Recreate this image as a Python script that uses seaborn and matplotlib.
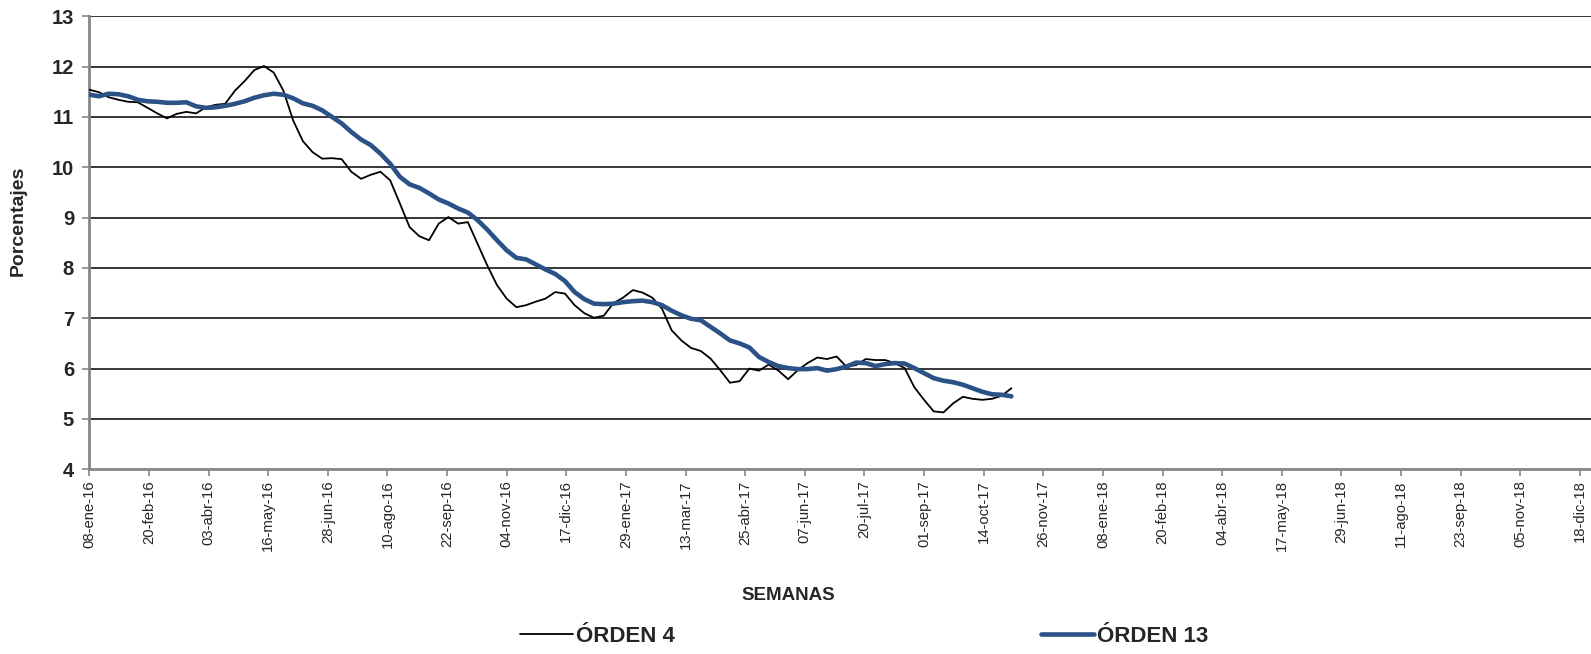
import numpy as np
import pandas as pd
import matplotlib
matplotlib.use("Agg")
import matplotlib.pyplot as plt
import seaborn as sns

# ---------------- data ----------------
start_date = "2016-01-08"
n_weeks = 96
orden4 = [11.54, 11.49, 11.39, 11.34, 11.30, 11.29, 11.18, 11.07, 10.97, 11.06,
          11.10, 11.07, 11.19, 11.24, 11.26, 11.52, 11.71, 11.93, 12.01, 11.88,
          11.52, 10.93, 10.52, 10.30, 10.17, 10.18, 10.16, 9.91, 9.77, 9.85,
          9.91, 9.74, 9.28, 8.81, 8.63, 8.55, 8.88, 9.01, 8.88, 8.91,
          8.48, 8.05, 7.66, 7.39, 7.22, 7.26, 7.33, 7.39, 7.52, 7.49,
          7.26, 7.10, 7.01, 7.05, 7.30, 7.41, 7.56, 7.51, 7.41, 7.19,
          6.76, 6.56, 6.41, 6.35, 6.20, 5.97, 5.72, 5.75, 6.00, 5.96,
          6.08, 5.96, 5.79, 5.97, 6.11, 6.22, 6.19, 6.24, 6.04, 6.07,
          6.19, 6.17, 6.17, 6.11, 6.01, 5.63, 5.38, 5.15, 5.13, 5.31,
          5.44, 5.40, 5.38, 5.40, 5.46, 5.61]
orden13 = [11.44, 11.41, 11.46, 11.45, 11.41, 11.34, 11.31, 11.30, 11.28, 11.28,
           11.29, 11.21, 11.18, 11.19, 11.22, 11.26, 11.31, 11.38, 11.43, 11.46,
           11.44, 11.37, 11.27, 11.22, 11.13, 11.00, 10.87, 10.70, 10.55, 10.44,
           10.27, 10.07, 9.81, 9.66, 9.59, 9.48, 9.36, 9.28, 9.18, 9.10,
           8.95, 8.76, 8.55, 8.35, 8.20, 8.17, 8.07, 7.97, 7.88, 7.74,
           7.52, 7.38, 7.29, 7.28, 7.29, 7.32, 7.34, 7.35, 7.32, 7.26,
           7.15, 7.06, 6.99, 6.96, 6.83, 6.70, 6.56, 6.50, 6.42, 6.23,
           6.13, 6.05, 6.01, 5.99, 5.99, 6.01, 5.96, 5.99, 6.04, 6.12,
           6.11, 6.05, 6.09, 6.11, 6.10, 6.01, 5.91, 5.81, 5.76, 5.73,
           5.68, 5.61, 5.54, 5.49, 5.48, 5.45]
series_names = ["ÓRDEN 4", "ÓRDEN 13"]
tick_labels = ["08-ene-16", "20-feb-16", "03-abr-16", "16-may-16", "28-jun-16",
               "10-ago-16", "22-sep-16", "04-nov-16", "17-dic-16", "29-ene-17",
               "13-mar-17", "25-abr-17", "07-jun-17", "20-jul-17", "01-sep-17",
               "14-oct-17", "26-nov-17", "08-ene-18", "20-feb-18", "04-abr-18",
               "17-may-18", "29-jun-18", "11-ago-18", "23-sep-18", "05-nov-18",
               "18-dic-18"]
y_ticks = [4, 5, 6, 7, 8, 9, 10, 11, 12, 13]

# ---------------- figure ----------------
sns.set_style("white")
plt.rcParams["font.family"] = ["Liberation Sans", "DejaVu Sans"]

fig = plt.figure(figsize=(15.91, 6.54), dpi=100)
ax = fig.add_axes([89.3 / 1591, 1 - 469.3 / 654, 1 - 89.3 / 1591, (469.3 - 16.2) / 654])

dates = pd.date_range(start_date, periods=n_weeks, freq="7D")
df = pd.DataFrame({"fecha": dates, "o4": orden4, "o13": orden13})

for y in y_ticks[1:]:
    ax.axhline(y, color="black", lw=1.1, zorder=1)

sns.lineplot(data=df, x="fecha", y="o4", ax=ax, color="black", lw=1.3,
             label=series_names[0], zorder=3)
sns.lineplot(data=df, x="fecha", y="o13", ax=ax, color="#2A5287", lw=3.3,
             label=series_names[1], zorder=4)

t0 = pd.Timestamp(start_date)
tick_pos = [t0 + pd.Timedelta(days=43 * k) for k in range(len(tick_labels))]
ax.set_xticks(tick_pos)
ax.set_xticklabels(tick_labels, rotation=90, fontsize=10.7)
ax.set_xlim(t0, t0 + pd.Timedelta(days=1083))

ax.set_ylim(4, 13)
ax.set_yticks(y_ticks)
ax.set_yticklabels([str(v) for v in y_ticks], fontsize=14.5, fontweight="bold")

ax.tick_params(axis="both", which="major", direction="out", length=5,
               color="#868686", width=1.2, bottom=True, left=True)
ax.tick_params(axis="y", pad=6)
ax.tick_params(axis="x", pad=3)

for s in ["top", "right"]:
    ax.spines[s].set_visible(False)
for s in ["left", "bottom"]:
    ax.spines[s].set_color("#868686")
    ax.spines[s].set_linewidth(2)

ax.set_xlabel("")
ax.set_ylabel("")
fig.text(18.3 / 1591, 1 - 221 / 654, "Porcentajes", rotation=90, fontsize=14,
         fontweight="bold", ha="center", va="center")
fig.text(788 / 1591, 1 - 595 / 654, "SEMANAS", fontsize=13.5,
         fontweight="bold", ha="center", va="center")

ax.get_legend().remove()
handles, labels = ax.get_legend_handles_labels()
fig.legend(handles, labels, loc="center left",
           bbox_to_anchor=(519.5 / 1591, 1 - 636 / 654), bbox_transform=fig.transFigure,
           ncol=2, frameon=False, borderpad=0, borderaxespad=0,
           handlelength=2.4, handletextpad=0.12, columnspacing=16.5,
           prop={"weight": "bold", "size": 16})

fig.savefig("out.png", dpi=100)
